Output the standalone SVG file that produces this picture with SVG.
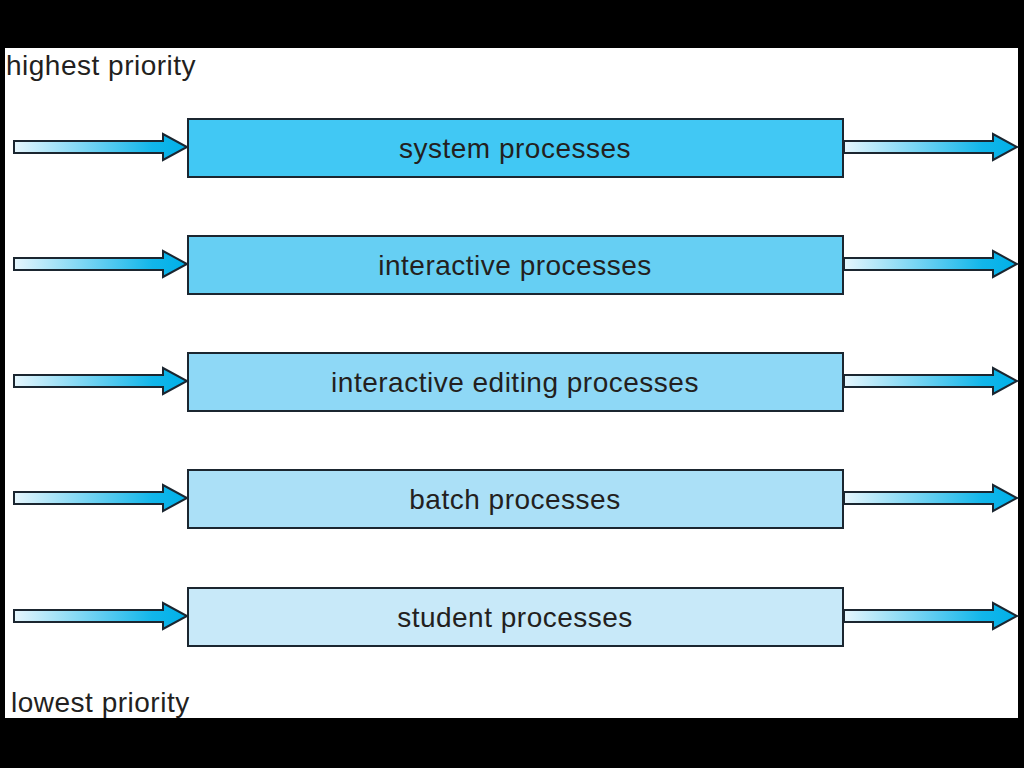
<svg xmlns="http://www.w3.org/2000/svg" width="1024" height="768" viewBox="0 0 1024 768">
<defs>
<linearGradient id="ag" x1="0" y1="0" x2="1" y2="0">
<stop offset="0" stop-color="#E6F6FD"/>
<stop offset="0.8" stop-color="#12B6EA"/>
<stop offset="1" stop-color="#00B0E8"/>
</linearGradient>
<style>
.box{stroke:#1b2630;stroke-width:2}
.arr{fill:url(#ag);stroke:#1b2630;stroke-width:2;stroke-linejoin:miter}
.lbl{font-family:"Liberation Sans",Arial,sans-serif;font-size:28px;letter-spacing:0.5px;fill:#231f20;text-anchor:middle}
.side{font-family:"Liberation Sans",Arial,sans-serif;font-size:28px;letter-spacing:0.5px;fill:#231f20}
</style>
</defs>
<rect x="0" y="0" width="1024" height="768" fill="#000"/>
<rect x="5" y="48" width="1013" height="670" fill="#fff"/>
<text class="side" x="6" y="75">highest priority</text>
<text class="side" x="11" y="712">lowest priority</text>
<g id="connectors">
<path class="arr" d="M14,141 H163 V134 L187,147 L163,160 V153 H14 Z"/>
<path class="arr" d="M844,141 H993 V134 L1017,147 L993,160 V153 H844 Z"/>
<path class="arr" d="M14,258 H163 V251 L187,264 L163,277 V270 H14 Z"/>
<path class="arr" d="M844,258 H993 V251 L1017,264 L993,277 V270 H844 Z"/>
<path class="arr" d="M14,375 H163 V368 L187,381 L163,394 V387 H14 Z"/>
<path class="arr" d="M844,375 H993 V368 L1017,381 L993,394 V387 H844 Z"/>
<path class="arr" d="M14,492 H163 V485 L187,498 L163,511 V504 H14 Z"/>
<path class="arr" d="M844,492 H993 V485 L1017,498 L993,511 V504 H844 Z"/>
<path class="arr" d="M14,610 H163 V603 L187,616 L163,629 V622 H14 Z"/>
<path class="arr" d="M844,610 H993 V603 L1017,616 L993,629 V622 H844 Z"/>
</g>
<g id="system">
<rect class="box" x="188" y="119" width="655" height="58" fill="#41C8F4"/>
<text class="lbl" x="515" y="158">system processes</text>
</g>
<g id="interactive">
<rect class="box" x="188" y="236" width="655" height="58" fill="#66CFF3"/>
<text class="lbl" x="515" y="275">interactive processes</text>
</g>
<g id="editing">
<rect class="box" x="188" y="353" width="655" height="58" fill="#8ED8F6"/>
<text class="lbl" x="515" y="392">interactive editing processes</text>
</g>
<g id="batch">
<rect class="box" x="188" y="470" width="655" height="58" fill="#ABE0F7"/>
<text class="lbl" x="515" y="509">batch processes</text>
</g>
<g id="student">
<rect class="box" x="188" y="588" width="655" height="58" fill="#C8E9F9"/>
<text class="lbl" x="515" y="627">student processes</text>
</g>
</svg>
